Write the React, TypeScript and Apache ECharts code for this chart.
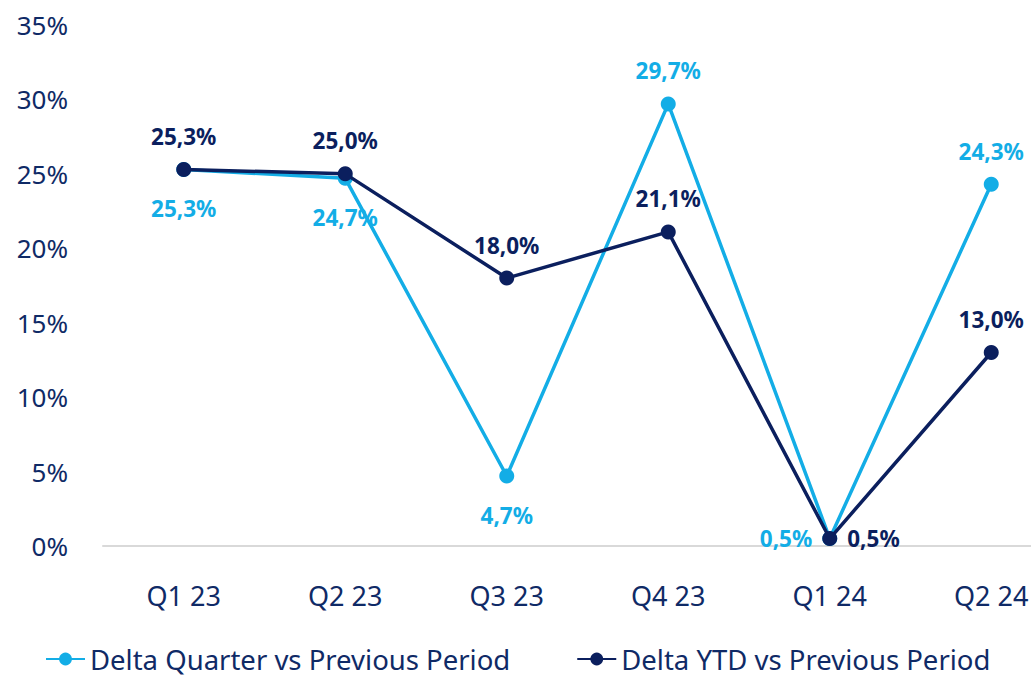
import React, { useEffect, useRef } from "react";
import * as echarts from "echarts";

const categories = ["Q1 23", "Q2 23", "Q3 23", "Q4 23", "Q1 24", "Q2 24"];
const quarterValues = [25.3, 24.7, 4.7, 29.7, 0.5, 24.3];
const ytdValues = [25.3, 25.0, 18.0, 21.1, 0.5, 13.0];
const quarterLabelPos = ["bottom", "bottom", "bottom", "top", "left", "top"];
const ytdLabelPos = ["top", "top", "top", "top", "right", "top"];
const seriesNames = ["Delta Quarter vs Previous Period", "Delta YTD vs Previous Period"];

const LIGHT = "#13ade6";
const DARK = "#0b1f5e";
const TEXT = "#0f2a66";
const FONT = "Noto Sans";

const fmt = (v: number) => v.toFixed(1).replace(".", ",") + "%";

export default function App() {
  const ref = useRef<HTMLDivElement>(null);
  useEffect(() => {
    if (!ref.current) return;
    const chart = echarts.init(ref.current, undefined, { renderer: "svg" });
    const mk = (vals: number[], pos: string[], color: string) =>
      vals.map((v, i) => ({
        value: v,
        label: {
          show: true,
          position: pos[i],
          distance: pos[i] === "left" || pos[i] === "right" ? 10 : pos[i] === "bottom" ? 20 : 14,
          formatter: () => fmt(v),
          color,
          fontFamily: FONT,
          fontWeight: "bold",
          fontSize: 22.5,
        },
      }));
    chart.setOption({
      animation: false,
      textStyle: { fontFamily: FONT },
      grid: { left: 103, right: 0, top: 25, bottom: 131, containLabel: false },
      legend: {
        left: 45,
        top: 644,
        padding: 0,
        itemWidth: 39,
        itemHeight: 16,
        itemGap: 66,
        textStyle: { color: TEXT, fontSize: 27.5, fontFamily: FONT, lineHeight: 30 },
        data: seriesNames,
      },
      xAxis: {
        type: "category",
        data: categories,
        boundaryGap: true,
        axisLine: { show: true, lineStyle: { color: "#d9d9d9", width: 2 } },
        axisTick: { show: false },
        axisLabel: { color: TEXT, fontSize: 27, fontFamily: FONT, margin: 36 },
      },
      yAxis: {
        type: "value",
        min: 0,
        max: 35,
        interval: 5,
        splitLine: { show: false },
        axisLine: { show: false },
        axisTick: { show: false },
        axisLabel: { color: TEXT, fontSize: 26, fontFamily: FONT, margin: 35, formatter: (v: number) => v + "%" },
      },
      series: [
        {
          name: seriesNames[0],
          type: "line",
          data: mk(quarterValues, quarterLabelPos, LIGHT),
          symbol: "circle",
          symbolSize: 15,
          itemStyle: { color: LIGHT },
          lineStyle: { color: LIGHT, width: 3.5 },
          z: 2,
        },
        {
          name: seriesNames[1],
          type: "line",
          data: mk(ytdValues, ytdLabelPos, DARK),
          symbol: "circle",
          symbolSize: 15,
          itemStyle: { color: DARK },
          lineStyle: { color: DARK, width: 3.5 },
          z: 3,
        },
      ],
    });
    return () => chart.dispose();
  }, []);
  return (
    <div style={{ position: "absolute", left: 0, top: 0, width: 1031, height: 677, overflow: "hidden", background: "#fff" }}>
      <div ref={ref} style={{ position: "absolute", left: 0, top: 0, width: 1072, height: 677 }} />
    </div>
  );
}
